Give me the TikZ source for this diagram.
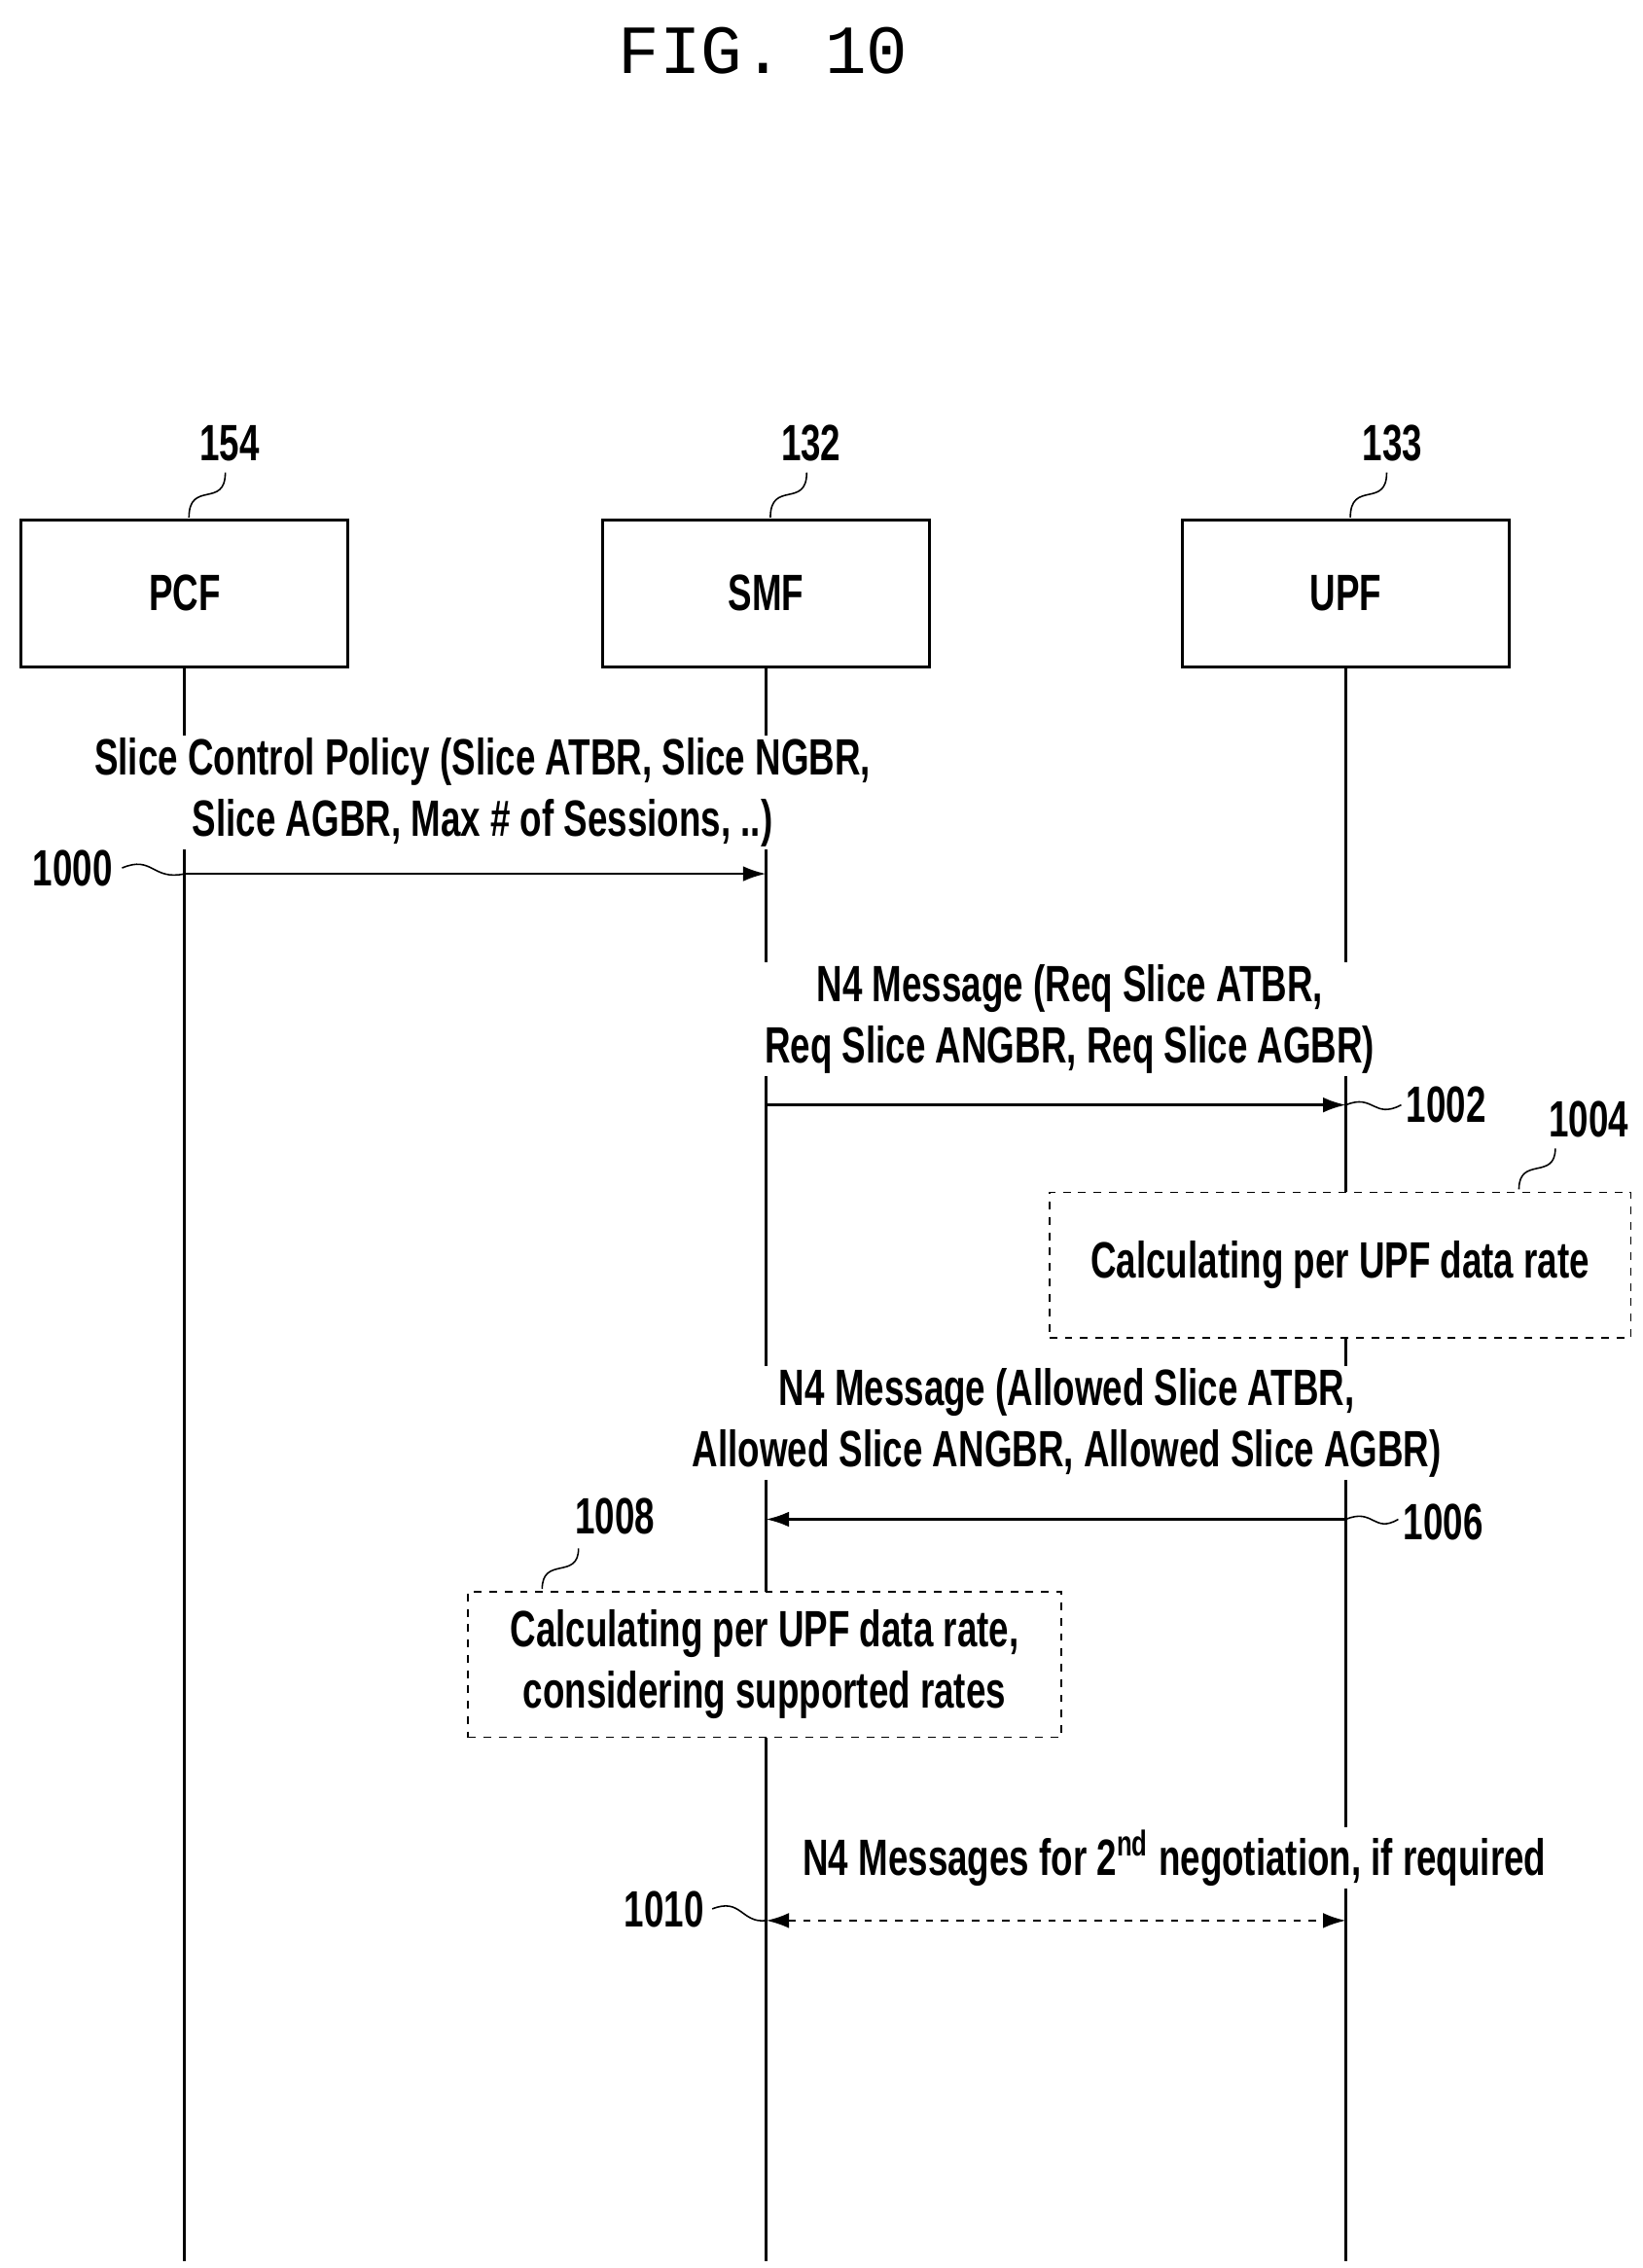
\documentclass[tikz,border=0pt]{standalone}
\usepackage{fontspec}
\setmainfont{Liberation Sans}[FakeStretch=0.7]
\setmonofont{Liberation Mono}
\usetikzlibrary{arrows.meta}
\tikzstyle{entity} = [draw, line width=1.2pt, minimum width=225*0.02cm, minimum height=101*0.02cm, font=\fontsize{20}{24}\selectfont\bfseries]
\tikzstyle{msg} = [draw, line width=1pt, -{Latex[length=9pt,width=6pt]}]
\tikzstyle{txt} = [font=\fontsize{20}{24}\selectfont\bfseries, align=center, inner sep=1pt, fill=white]
\tikzstyle{proc} = [draw, dashed, line width=0.6pt, font=\fontsize{20}{24}\selectfont\bfseries, align=center]
\tikzstyle{squig} = [line width=0.6pt]
\begin{document}
\begin{tikzpicture}[x=0.02cm,y=-0.02cm]
		\useasboundingbox (0,0) rectangle (1130,1560);
		%title
		\node[font=\ttfamily\fontsize{27}{32}\selectfont] (title) at (525,35) {FIG. 10};
		%entities
		\node[entity] (pcf) at (127,408) {PCF};
		\node[entity] (smf) at (527,408) {SMF};
		\node[entity] (upf) at (926,408) {UPF};
		\node[txt] (n154) at (158,305) {154};
		\node[txt] (n132) at (558,305) {132};
		\node[txt] (n133) at (958,305) {133};
		\draw[squig] (130,356) .. controls (130,330) and (155,350) .. (155,325);
		\draw[squig] (530,356) .. controls (530,330) and (555,350) .. (555,325);
		\draw[squig] (929,356) .. controls (929,330) and (954,350) .. (954,325);
		%lifelines
		\coordinate (pcfend) at (127,1555);
		\coordinate (smfend) at (527,1555);
		\coordinate (upfend) at (926,1555);
		\draw[line width=1pt] (pcf.south) -- (pcfend);
		\draw[line width=1pt] (smf.south) -- (smfend);
		\draw[line width=1pt] (upf.south) -- (upfend);
		%1000
		\coordinate (a0) at (127,601);
		\coordinate (b0) at (527,601);
		\draw[msg] (a0) -- (b0);
		\node[txt] (t1000) at (332,545) {Slice Control Policy (Slice ATBR, Slice NGBR,\\Slice AGBR, Max \# of Sessions, ..)};
		\node[txt] (n1000) at (50,597) {1000};
		\draw[squig] (84,597) .. controls (105,588) and (105,606) .. (a0);
		%1002
		\coordinate (a2) at (527,760);
		\coordinate (b2) at (926,760);
		\draw[msg] (a2) -- (b2);
		\node[txt] (t1002) at (736,701) {N4 Message (Req Slice ATBR,\\Req Slice ANGBR, Req Slice AGBR)};
		\node[txt] (n1002) at (995,760) {1002};
		\draw[squig] (b2) .. controls (945,752) and (945,770) .. (964,760);
		%1004
		\node[proc, fill=white, minimum width=400*0.02cm, minimum height=100*0.02cm] (p1004) at (922,870) {Calculating per UPF data rate};
		\node[txt] (n1004) at (1093,770) {1004};
		\draw[squig] (1045,818) .. controls (1045,795) and (1070,812) .. (1070,790);
		%1006
		\coordinate (a6) at (926,1045);
		\coordinate (b6) at (527,1045);
		\draw[msg] (a6) -- (b6);
		\node[txt] (t1006) at (734,979) {N4 Message (Allowed Slice ATBR,\\Allowed Slice ANGBR, Allowed Slice AGBR)};
		\node[txt] (n1006) at (993,1047) {1006};
		\draw[squig] (a6) .. controls (945,1037) and (945,1055) .. (962,1045);
		%1008
		\node[proc, fill=white, minimum width=408*0.02cm, minimum height=100*0.02cm] (p1008) at (526,1145) {Calculating per UPF data rate,\\considering supported rates};
		\node[txt] (n1008) at (423,1043) {1008};
		\draw[squig] (373,1093) .. controls (373,1070) and (398,1087) .. (398,1065);
		%1010
		\coordinate (a10) at (527,1321);
		\coordinate (b10) at (926,1321);
		\draw[msg, dashed, {Latex[length=9pt,width=6pt]}-{Latex[length=9pt,width=6pt]}] (a10) -- (b10);
		\node[txt] (t1010) at (808,1278) {N4 Messages for 2\textsuperscript{nd} negotiation, if required};
		\node[txt] (n1010) at (457,1313) {1010};
		\draw[squig] (490,1313) .. controls (510,1305) and (510,1323) .. (a10);
\end{tikzpicture}
\end{document}
